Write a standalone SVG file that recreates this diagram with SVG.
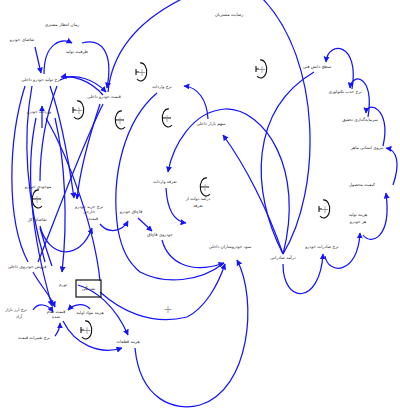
<svg xmlns="http://www.w3.org/2000/svg" xmlns:xlink="http://www.w3.org/1999/xlink" width="400" height="410" viewBox="0 0 400 410">
<style>
.c{fill:none;stroke:#1414ff;stroke-width:1.25}
.t{font-family:"DejaVu Sans","Noto Sans",sans-serif;font-size:4.2px;fill:#222;text-anchor:middle}
.la{fill:none;stroke:#111;stroke-width:1.1}
.ls{font-family:"DejaVu Sans",sans-serif;font-size:10px;fill:#999;text-anchor:middle}
.box{fill:none;stroke:#111;stroke-width:1.2}
</style>
<defs>
<marker id="ah" viewBox="0 0 10 10" refX="9" refY="5" markerWidth="6" markerHeight="6" markerUnits="userSpaceOnUse" orient="auto">
<path d="M0,0 L10,5 L0,10 z" fill="#1414ff"/>
</marker>
<g id="loopP">
<path class="la" d="M -2,-9 A 6,9 0 1 1 -5,7"/>
<path class="la" d="M -6,-3 L -6,3 M -6,0 L -3,0"/>
<text class="ls" x="0" y="3.5">+</text>
</g>
<g id="loopN">
<path class="la" d="M 2,-9 A 6,9 0 1 0 5,7"/>
<path class="la" d="M -5,0 L 4,0"/>
<text class="ls" x="0" y="3.5">+</text>
</g>
</defs>
<rect width="400" height="410" fill="#fff"/>

<g id="connectors">
<path class="c" d="M 108,92 C 112,50 140,18 190,-5"/>
<path class="c" d="M 262,-2 C 322,60 322,190 283,254"/>
<path class="c" d="M 283,254 C 250,190 250,110 314,72"/>
<path class="c" d="M 283,254 C 268,210 245,165 223,135" marker-end="url(#ah)"/>
<path class="c" d="M 283,254 C 305,170 265,108 225,109 C 193,111 173,145 168,172" marker-end="url(#ah)"/>
<path class="c" d="M 208,119 C 207,100 198,87 184,86" marker-end="url(#ah)"/>
<path class="c" d="M 157,93 C 125,120 110,175 118,230 C 122,250 128,262 140,272 C 165,285 200,282 224,263"/>
<path class="c" d="M 162,240 C 168,262 190,275 224,263" marker-end="url(#ah)"/>
<path class="c" d="M 100,292 C 120,310 150,326 187,317 C 205,308 218,285 225,264" marker-end="url(#ah)"/>
<path class="c" d="M 135,348 C 140,400 175,412 200,405 C 250,390 258,300 237,260" marker-end="url(#ah)"/>
<path class="c" d="M 166,188 C 167,205 172,221 186,223" marker-end="url(#ah)"/>
<path class="c" d="M 138,218 L 152,231" marker-end="url(#ah)"/>
<path class="c" d="M 100,224 C 108,234 122,232 128,221" marker-end="url(#ah)"/>
<path class="c" d="M 40,226 C 48,258 80,262 92,228" marker-end="url(#ah)"/>
<path class="c" d="M 35,47 L 41,73" marker-end="url(#ah)"/>
<path class="c" d="M 44,74 C 44,42 62,38 72,43" marker-end="url(#ah)"/>
<path class="c" d="M 82,43 C 100,38 114,50 107,88" marker-end="url(#ah)"/>
<path class="c" d="M 60,80 C 75,72 95,80 106,92" marker-end="url(#ah)"/>
<path class="c" d="M 103,95 C 90,80 72,75 61,77" marker-end="url(#ah)"/>
<path class="c" d="M 100,104 C 88,140 80,170 77,199" marker-end="url(#ah)"/>
<path class="c" d="M 25,86 C 8,140 6,220 28,262"/>
<path class="c" d="M 32,86 C 20,150 30,210 45,262"/>
<path class="c" d="M 50,86 C 62,120 70,170 74,198" marker-end="url(#ah)"/>
<path class="c" d="M 36,118 C 25,170 30,230 52,306" marker-end="url(#ah)"/>
<path class="c" d="M 46,118 C 70,160 95,230 100,281"/>
<path class="c" d="M 103,104 C 80,150 55,220 38,262"/>
<path class="c" d="M 57,86 C 48,110 40,140 40,181"/>
<path class="c" d="M 55,118 C 65,160 68,220 62,272" marker-end="url(#ah)"/>
<path class="c" d="M 42,128 L 42,106" marker-end="url(#ah)"/>
<path class="c" d="M 40,228 C 45,245 48,255 52,266"/>
<path class="c" d="M 33,272 C 40,285 50,295 55,307" marker-end="url(#ah)"/>
<path class="c" d="M 78,285 C 95,290 115,305 128,335" marker-end="url(#ah)"/>
<path class="c" d="M 33,310 C 38,302 48,304 53,312" marker-end="url(#ah)"/>
<path class="c" d="M 90,309 C 85,303 75,303 68,310" marker-end="url(#ah)"/>
<path class="c" d="M 55,336 C 58,332 60,328 60,323" marker-end="url(#ah)"/>
<path class="c" d="M 63,321 C 75,345 100,355 122,348" marker-end="url(#ah)"/>
<path class="c" d="M 352,89 C 360,42 328,40 326,62" marker-end="url(#ah)"/>
<path class="c" d="M 368,117 C 375,75 352,72 350,88" marker-end="url(#ah)"/>
<path class="c" d="M 383,146 C 392,108 367,100 366,113" marker-end="url(#ah)"/>
<path class="c" d="M 393,185 C 400,165 398,150 386,148" marker-end="url(#ah)"/>
<path class="c" d="M 363,235 C 370,245 392,240 386,193" marker-end="url(#ah)"/>
<path class="c" d="M 325,256 C 328,275 358,275 360,233" marker-end="url(#ah)"/>
<path class="c" d="M 283,264 C 283,305 320,305 323,254" marker-end="url(#ah)"/>
</g>

<g id="loops">
<use xlink:href="#loopP" x="79" y="110"/>
<use xlink:href="#loopN" x="120" y="120"/>
<use xlink:href="#loopP" x="142" y="72"/>
<use xlink:href="#loopN" x="167" y="118"/>
<use xlink:href="#loopP" x="262" y="69"/>
<use xlink:href="#loopN" x="205" y="187"/>
<use xlink:href="#loopP" x="325" y="209"/>
<use xlink:href="#loopN" x="37" y="199"/>
<use xlink:href="#loopP" x="87" y="330"/>
<text class="ls" x="168" y="313">+</text>
</g>

<g id="n1"><text class="t" x="22" y="41">تقاضای خودرو</text></g>
<g id="n2"><text class="t" x="62" y="26">زمان انتظار مشتری</text></g>
<g id="n3"><text class="t" x="77" y="53">ظرفیت تولید</text></g>
<g id="n4"><text class="t" x="41" y="81">نرخ تولید خودرو داخلی</text></g>
<g id="n5"><text class="t" x="104" y="98">قیمت خودرو داخلی</text></g>
<g id="n6"><text class="t" x="39" y="113">واردات خودرو</text></g>
<g id="n7"><text class="t" x="229" y="16">رضایت مشتریان</text></g>
<g id="n8"><text class="t" x="162" y="88">نرخ واردات</text></g>
<g id="n9"><text class="t" x="211" y="125">سهم بازار داخلی</text></g>
<g id="n10"><text class="t" x="317" y="68">سطح دانش فنی</text></g>
<g id="n11"><text class="t" x="345" y="93">نرخ جذب تکنولوژی</text></g>
<g id="n12"><text class="t" x="360" y="121">سرمایه‌گذاری تحقیق</text></g>
<g id="n13"><text class="t" x="367" y="149">نیروی انسانی ماهر</text></g>
<g id="n14"><text class="t" x="362" y="186">کیفیت محصول</text></g>
<g id="n15"><text class="t" x="358" y="216">هزینه تولید</text><text class="t" x="358" y="223">هر خودرو</text></g>
<g id="n16"><text class="t" x="322" y="248">نرخ صادرات خودرو</text></g>
<g id="n17"><text class="t" x="283" y="259">درآمد صادراتی</text></g>
<g id="n18"><text class="t" x="230" y="248">سود خودروسازان داخلی</text></g>
<g id="n21"><text class="t" x="165" y="183">تعرفه واردات</text></g>
<g id="n22"><text class="t" x="198" y="200">درآمد دولت از</text><text class="t" x="198" y="207">تعرفه</text></g>
<g id="n23"><text class="t" x="131" y="213">قاچاق خودرو</text></g>
<g id="n24"><text class="t" x="160" y="236">خودروی قاچاق</text></g>
<g id="n25"><text class="t" x="89" y="208">نرخ خرید خودرو</text><text class="t" x="89" y="213">خارجی</text></g>
<g id="n26"><text class="t" x="93" y="220">قیمت</text></g>
<g id="n27"><text class="t" x="38" y="188">موجودی خودرو</text></g>
<g id="n28"><text class="t" x="37" y="221">تقاضای کل</text></g>
<g id="n29"><text class="t" x="27" y="268">فروش خودروی داخلی</text></g>
<g id="n30"><text class="t" x="63" y="286">تورم</text></g>
<g id="n31"><rect class="box" x="76" y="280" width="25" height="17"/><text class="t" x="88.5" y="290">نقدینگی</text></g>
<g id="n32"><text class="t" x="16" y="311">نرخ ارز بازار</text><text class="t" x="19" y="318">آزاد</text></g>
<g id="n33"><text class="t" x="56" y="313">قیمت تمام</text><text class="t" x="56" y="318">شده</text></g>
<g id="n34"><text class="t" x="90" y="314">هزینه مواد اولیه</text></g>
<g id="n35"><text class="t" x="34" y="339">نرخ تغییرات قیمت</text></g>
<g id="n36"><text class="t" x="128" y="343">هزینه قطعات</text></g>
</svg>
